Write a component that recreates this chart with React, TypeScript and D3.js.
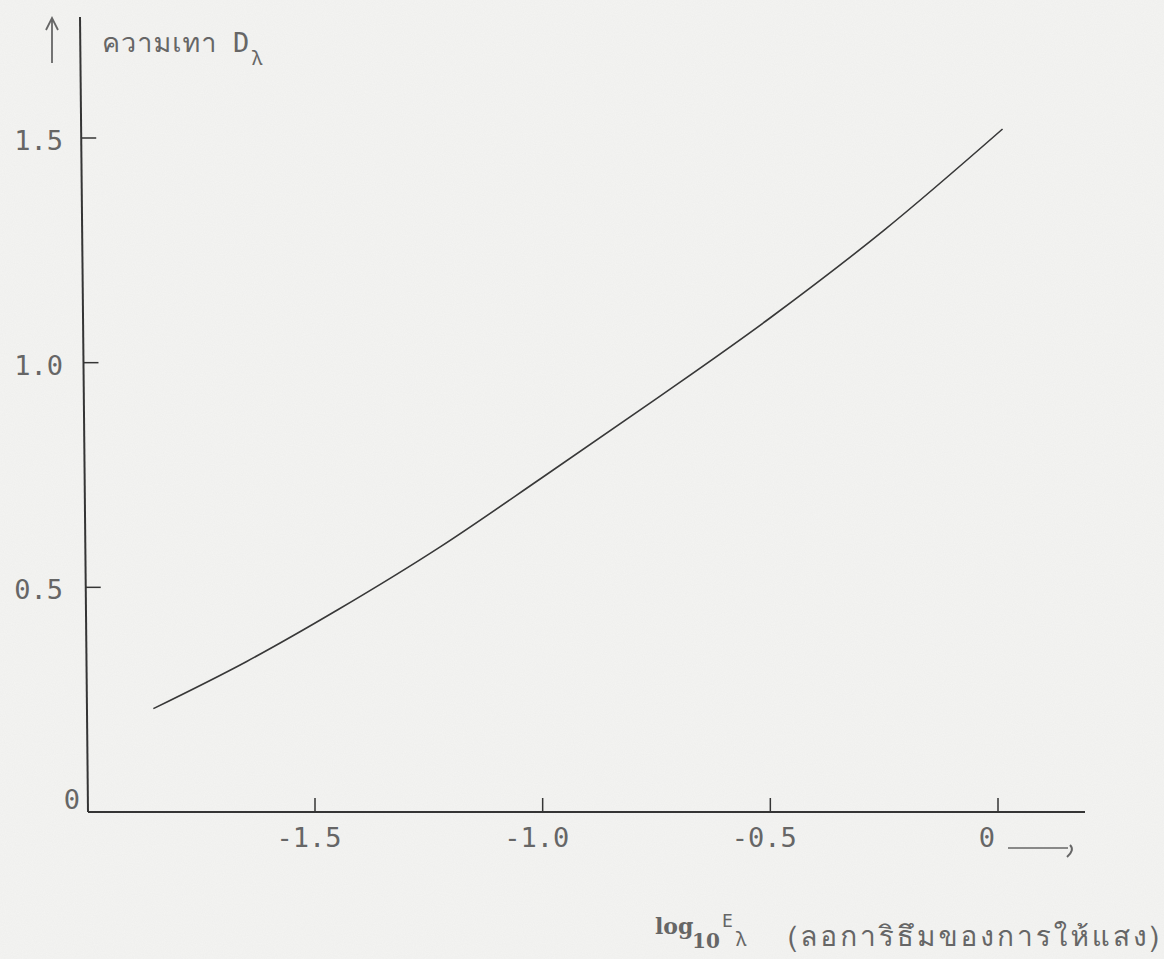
import React from "react";
import * as d3 from "d3";

// values
const logE = [-1.855, -1.65, -1.45, -1.225, -1.0, -0.75, -0.5, -0.25, 0.01];
const density = [0.23, 0.335, 0.45, 0.59, 0.745, 0.92, 1.1, 1.295, 1.52];
const xTicks = [-1.5, -1.0, -0.5, 0];
const xTickLabels = ["-1.5", "-1.0", "-0.5", "0"];
const yTicks = [0.5, 1.0, 1.5];
const yTickLabels = ["0.5", "1.0", "1.5"];

const W = 1164;
const H = 959;
const ink = "#353535";
const typeInk = "#666";
const mono = "'DejaVu Sans Mono', monospace";
const thai =
  "Loma, Garuda, Norasi, 'Noto Sans Thai Looped', 'Noto Serif Thai', 'Noto Sans Thai', 'Noto Sans', sans-serif";

export default function App() {
  const x = d3.scaleLinear().domain([-1.5, 0]).range([315, 998]);
  const y = d3.scaleLinear().domain([0, 1.5]).range([812, 138]);
  // hand-drawn y axis leans a little to the right at the bottom
  const axisX = d3.scaleLinear().domain([812, 17]).range([88, 80]);
  const y0 = y(0);

  const pts: [number, number][] = logE.map((v, i) => [x(v), y(density[i])]);
  const line = d3.line().curve(d3.curveMonotoneX)(pts) || "";

  return (
    <svg
      width={W}
      height={H}
      style={{ position: "absolute", left: 0, top: 0, display: "block" }}
    >
      <defs>
        <filter id="paper" x="0" y="0" width="100%" height="100%">
          <feTurbulence type="fractalNoise" baseFrequency="0.9" numOctaves="2" seed="3" />
          <feColorMatrix
            type="matrix"
            values="0 0 0 0 0.5  0 0 0 0 0.5  0 0 0 0 0.5  0 0 0 0.1 0"
          />
        </filter>
      </defs>
      <rect width={W} height={H} fill="#f4f4f2" />
      <rect width={W} height={H} filter="url(#paper)" />

      {/* y axis */}
      <line x1={axisX(17)} y1={17} x2={axisX(y0)} y2={y0} stroke={ink} strokeWidth={2} />
      {yTicks.map((t, i) => (
        <g key={t}>
          <line
            x1={axisX(y(t))}
            y1={y(t)}
            x2={axisX(y(t)) + 15}
            y2={y(t)}
            stroke={ink}
            strokeWidth={1.5}
          />
          <text
            x={63}
            y={y(t) + 12}
            textAnchor="end"
            fontFamily={mono}
            fontSize={27}
            fill={typeInk}
          >
            {yTickLabels[i]}
          </text>
        </g>
      ))}
      <text x={80} y={y0 - 3} textAnchor="end" fontFamily={mono} fontSize={27} fill={typeInk}>
        0
      </text>

      {/* up arrow and y label */}
      <path d="M52,63 L52,19 M46,30 L52,18 L58,30" fill="none" stroke={typeInk} strokeWidth={1.8} />
      <text x={102} y={52} fontFamily={thai} fontSize={27} letterSpacing={1} fill={typeInk}>
        ความเทา
      </text>
      <text x={233} y={52} fontFamily={mono} fontSize={27} fill={typeInk}>
        D
      </text>
      <text x={252} y={65} fontFamily={thai} fontSize={20} fill={typeInk}>
        λ
      </text>

      {/* x axis */}
      <line x1={axisX(y0)} y1={y0} x2={1085} y2={y0} stroke={ink} strokeWidth={2} />
      {xTicks.map((t, i) => (
        <g key={t}>
          <line x1={x(t)} y1={y0} x2={x(t)} y2={y0 - 14} stroke={ink} strokeWidth={1.5} />
          <text
            x={x(t) - (t === 0 ? 11 : 6)}
            y={847}
            textAnchor="middle"
            fontFamily={mono}
            fontSize={27}
            fill={typeInk}
          >
            {xTickLabels[i]}
          </text>
        </g>
      ))}
      <path d="M1008,848 L1068,848" fill="none" stroke={typeInk} strokeWidth={1.6} />
      <path d="M1070,845 Q1075,850 1067,857" fill="none" stroke={typeInk} strokeWidth={2} />

      {/* x label */}
      <text fontFamily="'DejaVu Serif', serif" fontWeight="bold" fill={typeInk}>
        <tspan x={655} y={934} fontSize={22}>log</tspan>
        <tspan x={692} y={948} fontSize={20}>10</tspan>
      </text>
      <text x={722} y={927} fontFamily={mono} fontSize={18} fill={typeInk}>
        E
      </text>
      <text x={736} y={946} fontFamily={thai} fontSize={20} fill={typeInk}>
        λ
      </text>
      <text
        x={1162}
        y={946}
        textAnchor="end"
        fontFamily={thai}
        fontSize={28}
        letterSpacing={3}
        fill={typeInk}
      >
        (ลอการิธึมของการให้แสง)
      </text>

      {/* curve */}
      <path d={line} fill="none" stroke="#383838" strokeWidth={1.6} />
    </svg>
  );
}
